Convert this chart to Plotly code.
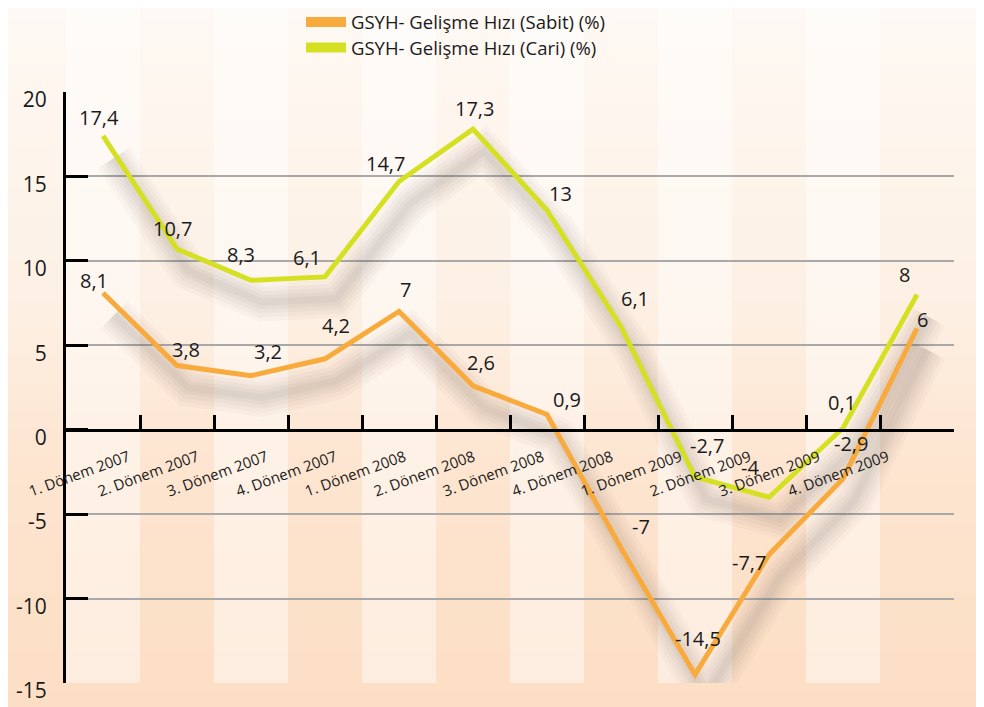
import plotly.graph_objects as go

# ---------------- data ----------------
categories = ["1. Dönem 2007", "2. Dönem 2007", "3. Dönem 2007", "4. Dönem 2007",
              "1. Dönem 2008", "2. Dönem 2008", "3. Dönem 2008", "4. Dönem 2008",
              "1. Dönem 2009", "2. Dönem 2009", "3. Dönem 2009", "4. Dönem 2009"]
# values as drawn in the picture
sabit = [8.1, 3.8, 3.2, 4.2, 7.0, 2.6, 0.9, -7.0, -14.5, -7.4, -2.9, 6.0]
cari = [17.4, 10.7, 8.85, 9.05, 14.7, 17.8, 13.0, 6.1, -2.8, -4.0, 0.1, 8.0]
# value labels as printed in the picture
sabit_labels = ["8,1", "3,8", "3,2", "4,2", "7", "2,6", "0,9", "-7", "-14,5", "-7,7", "-2,9", "6"]
cari_labels = ["17,4", "10,7", "8,3", "6,1", "14,7", "17,3", "13", "6,1", "-2,7", "-4", "0,1", "8"]
series_names = ["GSYH- Gelişme Hızı (Sabit) (%)", "GSYH- Gelişme Hızı (Cari) (%)"]
y_ticks = [-15, -10, -5, 0, 5, 10, 15, 20]
y_ticktext = ["-15", "-10", "-5", "0", "5", "10", "15", "20"]

# ---------------- styles ----------------
FONT = "Open Sans"
C_SABIT = "#f9aa3d"
C_CARI = "#d5e022"
W, H = 976, 699          # page adds an 8px body margin
ML, MR, MT, MB = 58, 30, 84, 24
PW, PH = W - ML - MR, H - MT - MB

# label offsets in px (dx, dy downwards)
sabit_off = [(-9, -12), (9, -16), (17, -24), (11, -33), (6, -22), (8, -23),
             (20, -15), (20, -21), (3, -36), (-20, 8), (8, -35), (5, -9)]
cari_off = [(-4, -18), (-5, -21), (-10, -26), (-18, -19), (-14, -18), (1, -21),
            (13, -17), (14, -28), (12, -31), (-19, -30), (-1, -26), (-13, -20)]

x = list(range(len(categories)))

fig = go.Figure()

# soft shadows
sdx, sdy = 0.15, -1.3
for vals in (sabit, cari):
    for w, op in ((38, 0.03), (30, 0.035), (22, 0.04), (14, 0.045), (7, 0.045)):
        fig.add_trace(go.Scatter(
            x=[v + sdx for v in x], y=[v + sdy for v in vals], mode="lines",
            line=dict(color="rgba(80,70,60,%.3f)" % op, width=w),
            hoverinfo="skip", showlegend=False))

# main lines
for vals, col, name in ((sabit, C_SABIT, series_names[0]), (cari, C_CARI, series_names[1])):
    fig.add_trace(go.Scatter(x=x, y=vals, mode="lines", line=dict(color=col, width=5),
                             showlegend=False, name=name))

# legend entries (one legend per row)
for col, name, lg in ((C_SABIT, series_names[0], "legend"), (C_CARI, series_names[1], "legend2")):
    fig.add_trace(go.Scatter(x=[None], y=[None], mode="lines", line=dict(color=col, width=12),
                             name=name, legend=lg, showlegend=True))

shapes = []
# vertical background gradient (piecewise stops: page-y fraction, rgb)
stops = [(0.0, (254, 249, 244)), (0.42, (253, 240, 228)), (0.66, (253, 229, 208)),
         (1.0, (252, 222, 196))]


def grad(t):
    for (t0, c0), (t1, c1) in zip(stops[:-1], stops[1:]):
        if t <= t1:
            f = (t - t0) / (t1 - t0)
            return tuple(round(c0[k] + (c1[k] - c0[k]) * f) for k in range(3))
    return stops[-1][1]


N = 50
y_lo = -MB / PH
y_hi = 1 + MT / PH
for i in range(N):
    t = (i + 0.5) / N
    c = grad(t)
    ya = y_hi - (y_hi - y_lo) * i / N
    yb = y_hi - (y_hi - y_lo) * (i + 1) / N
    shapes.append(dict(type="rect", xref="paper", yref="paper", x0=-ML / PW, x1=1 + MR / PW,
                       y0=yb - 0.002, y1=ya + 0.002, line=dict(width=0),
                       fillcolor="rgb(%d,%d,%d)" % c, layer="below"))
# lighter stripes on every other category band
for i in range(0, len(categories), 2):
    shapes.append(dict(type="rect", xref="x", yref="paper", x0=i - 0.5, x1=i + 0.5,
                       y0=0, y1=y_hi, line=dict(width=0),
                       fillcolor="rgba(255,255,255,0.45)", layer="below"))

annotations = []
for vals, labs, offs in ((sabit, sabit_labels, sabit_off), (cari, cari_labels, cari_off)):
    for i, (v, lab, (dx, dy)) in enumerate(zip(vals, labs, offs)):
        annotations.append(dict(x=i, y=v, xref="x", yref="y", text=lab, showarrow=False,
                                xshift=dx, yshift=-dy,
                                font=dict(family=FONT, size=20, color="#1a1a1a")))
# category labels (slanted)
for i, cat in enumerate(categories):
    annotations.append(dict(x=i, y=0, xref="x", yref="y", text=cat, showarrow=False,
                            textangle=-20, xshift=-24 - 5 * i, yshift=-43,
                            font=dict(family=FONT, size=15, color="#1a1a1a")))

leg_common = dict(xanchor="left", yanchor="top", bgcolor="rgba(0,0,0,0)",
                  font=dict(family=FONT, size=18.5, color="#1a1a1a"), itemwidth=40,
                  x=(293 - ML) / PW)

fig.update_layout(
    width=W, height=H,
    margin=dict(l=ML, r=MR, t=MT, b=MB, autoexpand=False),
    paper_bgcolor="#fdeee0",
    plot_bgcolor="rgba(0,0,0,0)",
    font=dict(family=FONT, color="#1a1a1a"),
    shapes=shapes,
    annotations=annotations,
    showlegend=True,
    legend=dict(y=1 + (MT + 4.5) / PH, **leg_common),
    legend2=dict(y=1 + (MT - 21) / PH, **leg_common),
    xaxis=dict(range=[-0.5, len(categories) - 0.5], showgrid=False, zeroline=False,
               tickvals=[i - 0.5 for i in range(len(categories) + 1)],
               showticklabels=False, ticks="inside", ticklen=14, tickwidth=3, tickcolor="black",
               showline=True, linecolor="black", linewidth=3,
               anchor="free", position=15 / 35),
    yaxis=dict(range=[-15, 20], tickvals=y_ticks, ticktext=y_ticktext, ticks="inside",
               ticklen=22, tickwidth=3,
               tickcolor="black", showline=True, linecolor="black", linewidth=3,
               showgrid=True, gridcolor="#a9a9a9", gridwidth=2, zeroline=False,
               tickfont=dict(family=FONT, size=21, color="#1a1a1a"),
               ticklabelshift=8, ticklabelstandoff=12),
)

fig.write_html("out.html")
